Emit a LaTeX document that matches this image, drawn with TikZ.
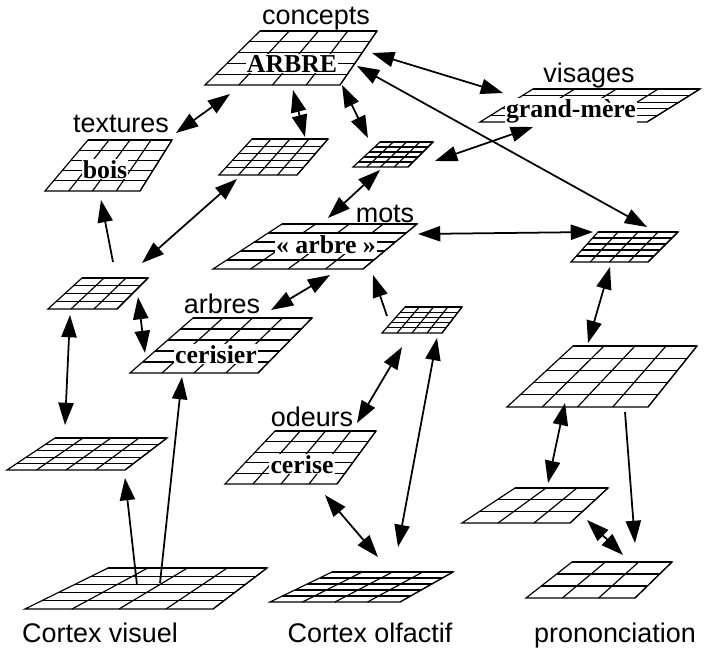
\documentclass[tikz,border=0pt]{standalone}
\usepackage{fontspec}
\setmainfont{Liberation Serif}
\setsansfont{Liberation Sans}
\usetikzlibrary{arrows.meta,calc}

\tikzset{
  grille/.style={line width=1pt},
  titre/.style={font=\sffamily\fontsize{23}{27}\selectfont,inner sep=0pt,anchor=base},
  nom/.style={font=\bfseries\fontsize{22}{26}\selectfont,fill=white,inner sep=1pt,anchor=base},
  lien/.style={line width=1.5pt,-{Triangle[length=19pt,width=13pt]}},
  liens/.style={line width=1.5pt,{Triangle[length=19pt,width=13pt]}-{Triangle[length=19pt,width=13pt]}},
}

% coins : bas gauche, bas droit, haut droit, haut gauche, lignes, colonnes
\newcommand{\grille}[6]{%
  \draw[grille] (#1) -- (#2) -- (#3) -- (#4) -- cycle;
  \foreach \i in {1,...,#5} \draw[grille] ($(#1)!\i/#5!(#4)$) -- ($(#2)!\i/#5!(#3)$);
  \foreach \j in {1,...,#6} \draw[grille] ($(#1)!\j/#6!(#2)$) -- ($(#4)!\j/#6!(#3)$);
}

\begin{document}
\begin{tikzpicture}[x=0.03cm,y=-0.03cm]
\useasboundingbox (0,0) rectangle (707,647);

\grille{205,85}{340,85}{377,31}{260,31}{5}{4}
\grille{480,122}{647,122}{700,89}{533,89}{5}{4}
\grille{45,191}{140,191}{172,140}{88,140}{5}{4}
\grille{219,175}{297,175}{328,139}{252,139}{5}{4}
\grille{353,167}{408,167}{433,142}{380,142}{5}{4}
\grille{213,269}{363,269}{417,224}{282,224}{5}{4}
\grille{571,262}{648,262}{678,232}{598,232}{5}{4}
\grille{48,309}{117,309}{148,278}{82,278}{4}{3}
\grille{130,373}{258,373}{312,318}{193,318}{5}{4}
\grille{382,333}{442,333}{462,307}{405,307}{5}{4}
\grille{507,407}{648,407}{697,346}{573,346}{5}{4}
\grille{7,470}{125,470}{167,438}{55,438}{5}{4}
\grille{225,484}{337,484}{376,431}{275,431}{5}{4}
\grille{25,609}{213,609}{267,568}{108,568}{5}{4}
\grille{270,602}{400,602}{453,572}{332,572}{5}{4}
\grille{462,523}{570,523}{608,488}{515,488}{3}{3}
\grille{526,598}{635,598}{672,562}{572,562}{3}{3}

\node[nom] (arbre) at (292,72) {ARBRE};
\node[nom] (grandmere) at (571,117) {grand-mère};
\node[nom] (bois) at (105,178) {bois};
\node[nom] (mot) at (326,253) {«~arbre~»};
\node[nom] (cerisier) at (216,363) {cerisier};
\node[nom] (cerise) at (302,473) {cerise};

\node[titre] (concepts) at (316,25) {concepts};
\node[titre] (visages) at (589,82) {visages};
\node[titre] (textures) at (121,132) {textures};
\node[titre] (mots) at (385,222) {mots};
\node[titre] (arbres) at (222,313) {arbres};
\node[titre] (odeurs) at (312,426) {odeurs};
\node[titre] (visuel) at (100,642) {Cortex visuel};
\node[titre] (olfactif) at (370,642) {Cortex olfactif};
\node[titre] (prononciation) at (615,642) {prononciation};

\coordinate (c-tex) at (230,94);
\coordinate (tex-c) at (176,133);
\coordinate (c-g4) at (293,90);
\coordinate (g4-c) at (305,137);
\coordinate (c-g5) at (342,85);
\coordinate (g5-c) at (368,138);
\coordinate (c-vis) at (372,53);
\coordinate (vis-c) at (503,93);
\coordinate (c-g7) at (357,66);
\coordinate (g7-c) at (647,227);
\coordinate (g5-vis) at (435,161);
\coordinate (vis-g5) at (533,127);
\coordinate (g4-g8) at (237,179);
\coordinate (g8-g4) at (142,263);
\coordinate (g8-b) at (113,262);
\coordinate (b-g8) at (101,200);
\coordinate (g8-cer) at (138,297);
\coordinate (cer-g8) at (145,353);
\coordinate (g8-g12) at (70,315);
\coordinate (g12-g8) at (65,425);
\coordinate (cer-m) at (271,310);
\coordinate (m-cer) at (330,275);
\coordinate (g5-m) at (380,170);
\coordinate (m-g5) at (328,218);
\coordinate (m-g7) at (418,234);
\coordinate (g7-m) at (593,232);
\coordinate (g10-m) at (387,316);
\coordinate (m-g10) at (373,275);
\coordinate (g7-g11) at (610,267);
\coordinate (g11-g7) at (588,343);
\coordinate (g10-ce) at (402,347);
\coordinate (ce-g10) at (357,423);
\coordinate (g10-ol) at (437,338);
\coordinate (ol-g10) at (398,547);
\coordinate (ce-ol) at (325,495);
\coordinate (ol-ce) at (378,557);
\coordinate (vi-g12) at (137,585);
\coordinate (g12-vi) at (125,478);
\coordinate (vi-cer) at (160,583);
\coordinate (cer-vi) at (182,377);
\coordinate (g11-g16) at (565,403);
\coordinate (g16-g11) at (548,483);
\coordinate (g11-pr) at (625,412);
\coordinate (pr-g11) at (635,543);
\coordinate (g16-pr) at (587,520);
\coordinate (pr-g16) at (623,555);

\draw[liens] (c-tex) -- (tex-c);
\draw[liens] (c-g4) -- (g4-c);
\draw[liens] (c-g5) -- (g5-c);
\draw[liens] (c-vis) -- (vis-c);
\draw[liens] (c-g7) -- (g7-c);
\draw[liens] (g5-vis) -- (vis-g5);
\draw[liens] (g4-g8) -- (g8-g4);
\draw[lien] (g8-b) -- (b-g8);
\draw[liens] (g8-cer) -- (cer-g8);
\draw[liens] (g8-g12) -- (g12-g8);
\draw[liens] (cer-m) -- (m-cer);
\draw[liens] (g5-m) -- (m-g5);
\draw[liens] (m-g7) -- (g7-m);
\draw[lien] (g10-m) -- (m-g10);
\draw[liens] (g7-g11) -- (g11-g7);
\draw[liens] (g10-ce) -- (ce-g10);
\draw[liens] (g10-ol) -- (ol-g10);
\draw[liens] (ce-ol) -- (ol-ce);
\draw[lien] (vi-g12) -- (g12-vi);
\draw[lien] (vi-cer) -- (cer-vi);
\draw[liens] (g11-g16) -- (g16-g11);
\draw[lien] (g11-pr) -- (pr-g11);
\draw[liens] (g16-pr) -- (pr-g16);
\end{tikzpicture}
\end{document}
